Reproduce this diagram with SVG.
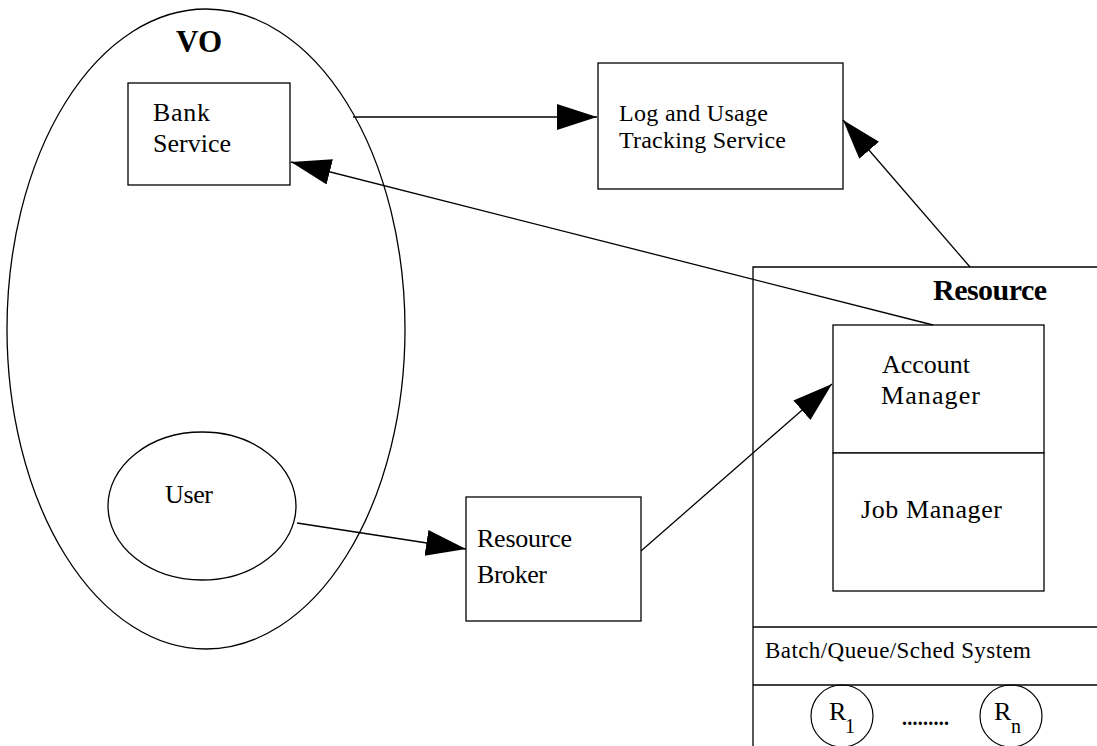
<svg xmlns="http://www.w3.org/2000/svg" width="1097" height="746" viewBox="0 0 1097 746">
<style>
.s{fill:none;stroke:#000;stroke-width:1.3}
.b{fill:#fff;stroke:#000;stroke-width:1.3}
.t{font-family:"Liberation Serif","Times New Roman",serif;fill:#000}
.h{font-family:"Liberation Serif","Times New Roman",serif;font-weight:bold;fill:#000}
.c{fill:none;stroke:#000;stroke-width:1.2}
</style>
<defs>
<marker id="arr" markerUnits="userSpaceOnUse" markerWidth="41" markerHeight="27" refX="40" refY="13" orient="auto">
<path d="M0,0 L40,13 L0,26 z" fill="#000"/>
</marker>
</defs>
<rect width="1097" height="746" fill="#fff"/>
<g id="vo">
<ellipse class="s" cx="206" cy="329" rx="199" ry="320"/>
<text class="h" x="176" y="52" font-size="31" textLength="46">VO</text>
</g>
<g id="bank">
<rect class="b" x="128" y="83" width="162" height="102"/>
<text class="t" x="153" y="121" font-size="26" textLength="57">Bank</text>
<text class="t" x="153" y="152" font-size="26" textLength="78">Service</text>
</g>
<g id="user">
<ellipse class="s" cx="202" cy="506" rx="94" ry="74"/>
<text class="t" x="165" y="503" font-size="26" textLength="48">User</text>
</g>
<g id="log">
<rect class="b" x="598" y="63" width="245" height="126"/>
<text class="t" x="619" y="121" font-size="24" textLength="149">Log and Usage</text>
<text class="t" x="619" y="148" font-size="24" textLength="167">Tracking Service</text>
</g>
<g id="broker">
<rect class="b" x="466" y="497" width="175" height="124"/>
<text class="t" x="477" y="547" font-size="26" textLength="95">Resource</text>
<text class="t" x="477" y="583" font-size="26" textLength="70">Broker</text>
</g>
<g id="resource">
<path class="s" d="M753,746 V267 H1097"/>
<text class="h" x="933" y="300" font-size="30" textLength="114">Resource</text>
<line class="s" x1="753" y1="627" x2="1097" y2="627"/>
<line class="s" x1="753" y1="685" x2="1097" y2="685"/>
<text class="t" x="765" y="658" font-size="23" textLength="266">Batch/Queue/Sched System</text>
</g>
<g id="account">
<rect class="b" x="833" y="325" width="211" height="128"/>
<text class="t" x="882" y="373" font-size="26" textLength="88">Account</text>
<text class="t" x="881" y="404" font-size="26" textLength="99">Manager</text>
</g>
<g id="job">
<rect class="b" x="833" y="453" width="211" height="138"/>
<text class="t" x="861" y="518" font-size="26" textLength="141">Job Manager</text>
</g>
<g id="r1">
<circle class="c" cx="842" cy="716" r="31"/>
<text class="t" x="829" y="720" font-size="26">R</text>
<text class="t" x="845" y="733" font-size="20">1</text>
</g>
<g id="dots">
<text class="h" x="902" y="725" font-size="20" textLength="47">.........</text>
</g>
<g id="rn">
<circle class="c" cx="1011" cy="716" r="31"/>
<text class="t" x="994" y="720" font-size="26">R</text>
<text class="t" x="1011" y="733" font-size="20">n</text>
</g>
<g id="connectors">
<line class="s" x1="353" y1="117" x2="597" y2="117" marker-end="url(#arr)"/>
<line class="s" x1="970" y1="267" x2="843" y2="120" marker-end="url(#arr)"/>
<line class="s" x1="933" y1="325" x2="291" y2="162" marker-end="url(#arr)"/>
<line class="s" x1="297" y1="523" x2="466" y2="549" marker-end="url(#arr)"/>
<line class="s" x1="641" y1="551" x2="832" y2="384" marker-end="url(#arr)"/>
</g>
</svg>
